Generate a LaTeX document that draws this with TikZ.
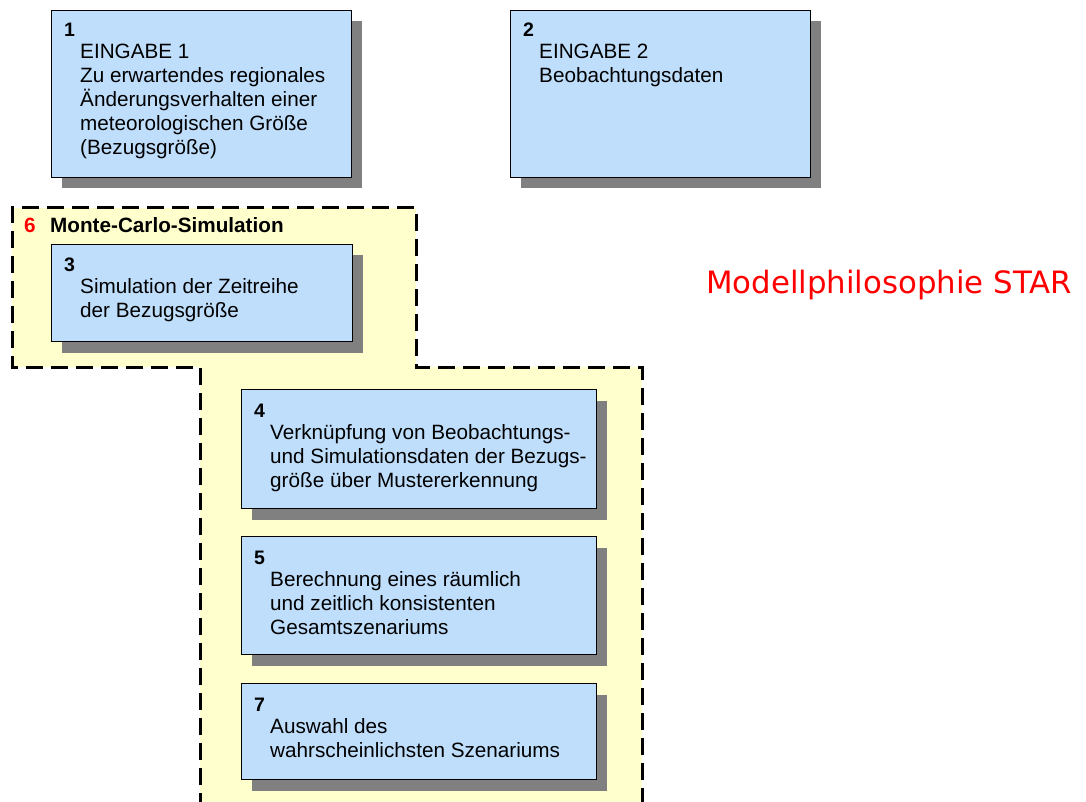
\documentclass[tikz,border=0pt]{standalone}
\usepackage{fontspec}
\setmainfont{Liberation Sans}
\newfontfamily\starfont{DejaVu Sans}
\usetikzlibrary{shadows}
\definecolor{boxblue}{RGB}{190,222,252}
\definecolor{areayellow}{RGB}{255,255,206}
\definecolor{shadowgray}{RGB}{128,128,128}
\tikzset{
	stepbox/.style={draw=black, line width=1pt, fill=boxblue, anchor=north west, inner sep=0pt,
		drop shadow={fill=shadowgray, opacity=1, shadow xshift=10pt, shadow yshift=-11pt}},
	stepnum/.style={anchor=base west, inner sep=0pt, font=\fontsize{19.5}{22}\selectfont\bfseries},
	steptext/.style={anchor=north west, inner sep=0pt, align=left, font=\fontsize{20.7}{24}\selectfont},
	mcborder/.style={line width=3pt, dash pattern=on 17pt off 8pt}
}
\begin{document}
\begin{tikzpicture}[x=1pt, y=-1pt]
	\useasboundingbox (0,0) rectangle (1086,802);

	\fill[areayellow] (12,208) -- (416,208) -- (416,367) -- (642,367) -- (642,810)
		-- (200,810) -- (200,367) -- (12,367) -- cycle;
	\draw[mcborder] (200,810) -- (200,367) -- (12,367) -- (12,208) -- (416,208)
		-- (416,367) -- (642,367) -- (642,810);

	\node[stepbox, minimum width=300pt, minimum height=167pt] (b1) at (51,10) {};
	\node[stepbox, minimum width=300pt, minimum height=167pt] (b2) at (510,10) {};
	\node[stepbox, minimum width=301pt, minimum height=97pt] (b3) at (51,244) {};
	\node[stepbox, minimum width=355pt, minimum height=119pt] (b4) at (241,389) {};
	\node[stepbox, minimum width=355pt, minimum height=118pt] (b5) at (241,536) {};
	\node[stepbox, minimum width=355pt, minimum height=96pt] (b7) at (241,683) {};

	\node[stepnum] (n1) at (64,37) {1};
	\node[steptext] (t1) at (80,42) {\strut EINGABE 1\\Zu erwartendes regionales\\Änderungsverhalten einer\\meteorologischen Größe\\(Bezugsgröße)};
	\node[stepnum] (n2) at (523,37) {2};
	\node[steptext] (t2) at (539,42) {\strut EINGABE 2\\Beobachtungsdaten};
	\node[stepnum] (n3) at (64,272) {3};
	\node[steptext] (t3) at (80,276) {\strut Simulation der Zeitreihe\\der Bezugsgröße};
	\node[stepnum] (n4) at (254,417) {4};
	\node[steptext] (t4) at (270,422) {\strut Verknüpfung von Beobachtungs-\\und Simulationsdaten der Bezugs-\\größe über Mustererkennung};
	\node[stepnum] (n5) at (254,564) {5};
	\node[steptext] (t5) at (270,569) {\strut Berechnung eines räumlich\\und zeitlich konsistenten\\Gesamtszenariums};
	\node[stepnum] (n7) at (254,711) {7};
	\node[steptext] (t7) at (270,716) {\strut Auswahl des\\wahrscheinlichsten Szenariums};

	\node[stepnum, red, font=\fontsize{20.7}{24}\selectfont\bfseries] (n6) at (24,233) {6};
	\node[stepnum, font=\fontsize{20.7}{24}\selectfont\bfseries] (mc) at (50,233) {Monte-Carlo-Simulation};

	\node[anchor=base west, inner sep=0pt, red, font=\starfont\fontsize{30.8}{36}\selectfont] (star) at (706,293) {Modellphilosophie STAR};
\end{tikzpicture}
\end{document}
